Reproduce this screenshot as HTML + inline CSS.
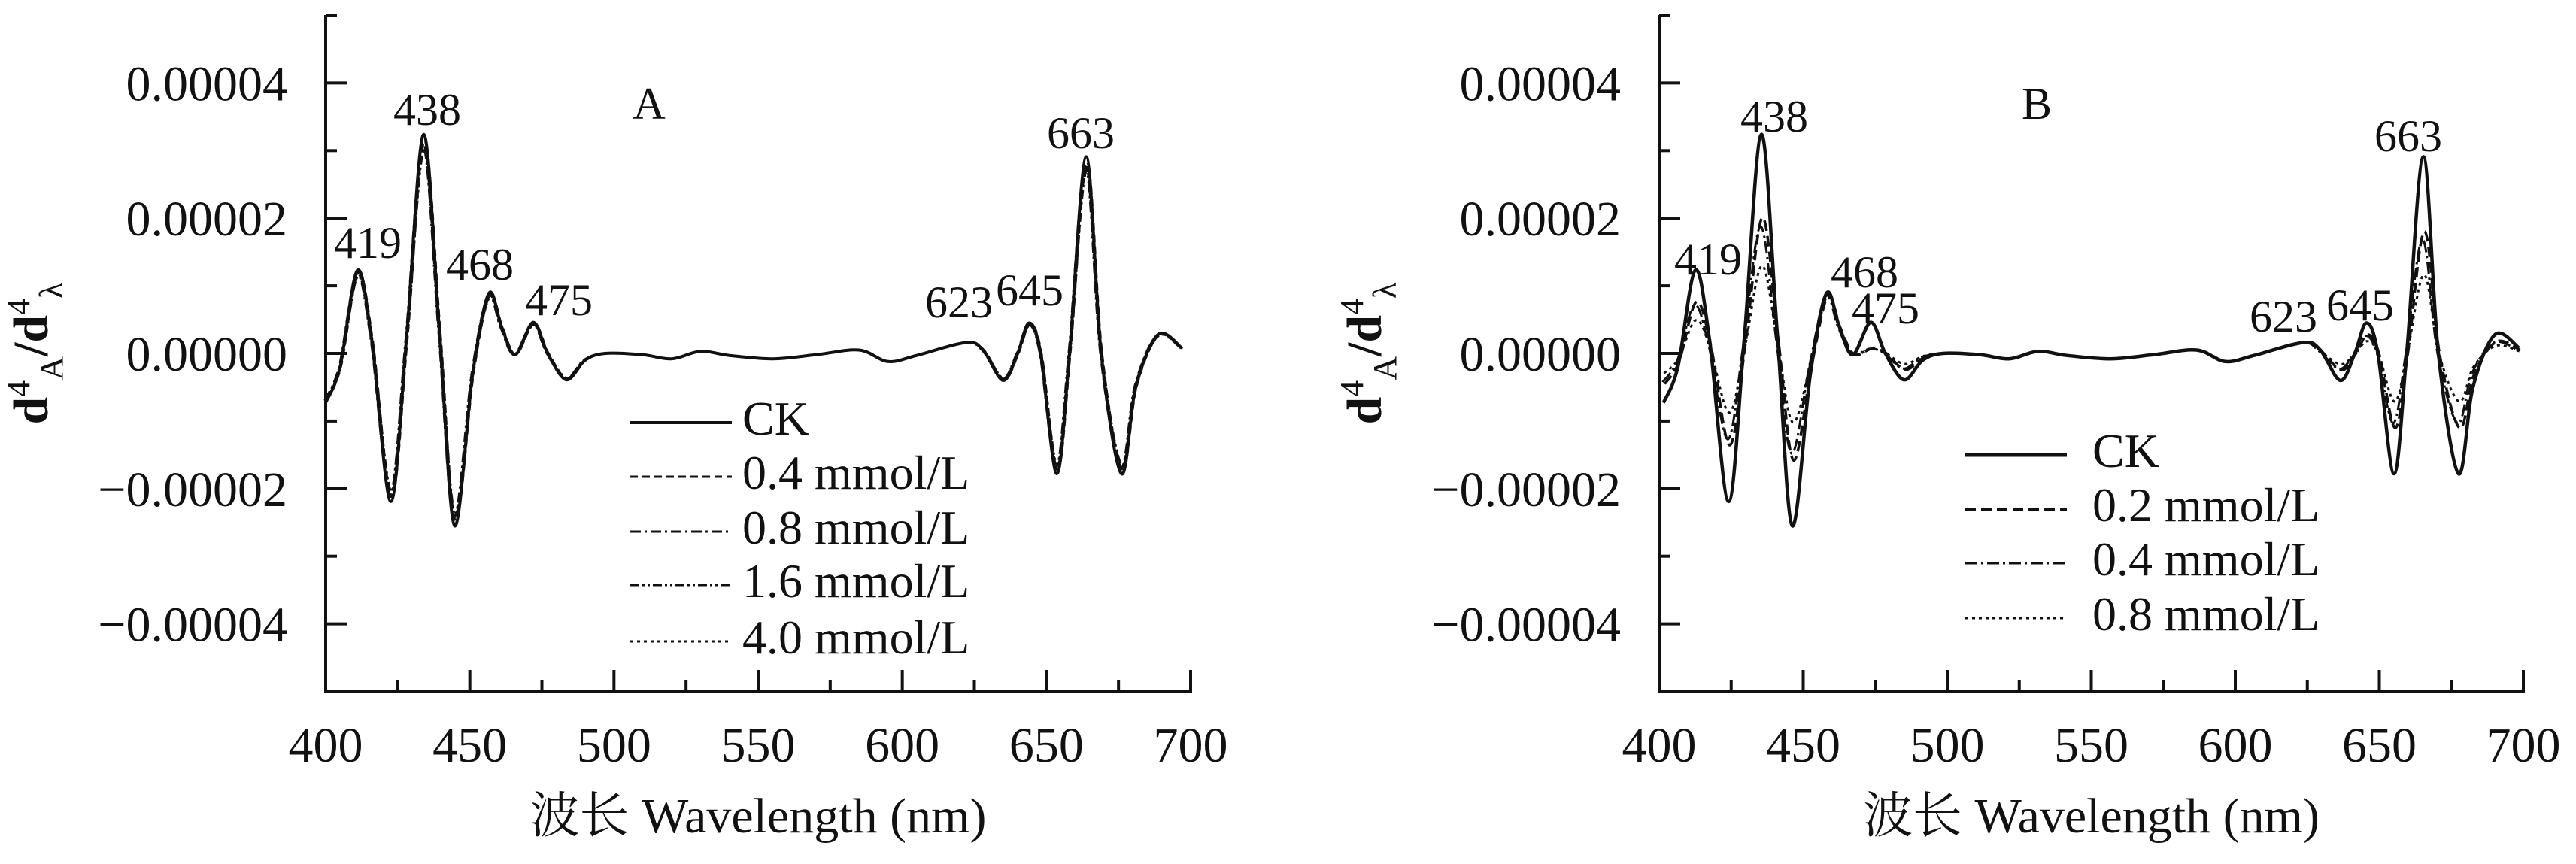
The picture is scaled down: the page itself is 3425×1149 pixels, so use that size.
<!DOCTYPE html>
<html><head><meta charset="utf-8">
<style>
html,body{margin:0;padding:0;background:#fff;}
svg text{font-family:"Liberation Serif","Noto Serif CJK SC",serif;fill:#111;}
</style></head>
<body>
<svg id="s" width="3425" height="1144" viewBox="0 0 3425 1144" xmlns="http://www.w3.org/2000/svg">
<rect width="3425" height="1144" fill="#fff"/>
<g id="g"></g>
</svg>
<script>
var NS="http://www.w3.org/2000/svg",G=document.getElementById('g');
function el(t,a,txt){var e=document.createElementNS(NS,t);for(var k in a)e.setAttribute(k,a[k]);if(txt!==undefined)e.textContent=txt;G.appendChild(e);return e;}
var base=[[400,-0.73],[405,-0.2],[411,1.23],[416,0.2],[422.6,-2.19],[428,0.2],[434,3.24],[439.5,0.3],[444.7,-2.55],[451,-0.3],[456.6,0.89],[461,0.4],[465.7,-0.02],[472,0.46],[477,0.0],[483.5,-0.39],[490,-0.1],[497,0],[510,-0.02],[520,-0.08],[530,0.03],[540,-0.03],[555,-0.08],[570,-0.02],[585,0.05],[595,-0.12],[605,-0.03],[622,0.16],[628,0.05],[635,-0.4],[640,0],[644,0.45],[648,0],[653.6,-1.78],[658,0],[663.8,2.91],[669,0],[676,-1.78],[681,-0.5],[688.7,0.28],[697,0.08]];
function pathFor(X0,X1,pts){
 var P=pts.map(function(p){return [X0+(p[0]-400)*(X1-X0)/300,470-p[1]*89.9];});
 var d="M"+P[0][0].toFixed(1)+","+P[0][1].toFixed(1);
 for(var i=0;i<P.length-1;i++){var p0=P[Math.max(0,i-1)],p1=P[i],p2=P[i+1],p3=P[Math.min(P.length-1,i+2)];
  var c1=[p1[0]+(p2[0]-p0[0])/6,p1[1]+(p2[1]-p0[1])/6],c2=[p2[0]-(p3[0]-p1[0])/6,p2[1]-(p3[1]-p1[1])/6];
  d+="C"+c1[0].toFixed(1)+","+c1[1].toFixed(1)+" "+c2[0].toFixed(1)+","+c2[1].toFixed(1)+" "+p2[0].toFixed(1)+","+p2[1].toFixed(1);}
 return d;}
function scaled(s,dx,opt){return base.map(function(p){var f=(p[0]<500||p[0]>625)?s:1;
  if(opt&&p[0]>=455&&p[0]<=462)f=0.95;
  if(opt&&p[0]>=470&&p[0]<=474)f=0.15;
  return [p[0]+(dx||0),p[1]*f];});}
function panel(X0,X1,letter,lx,labels,series,leg){
 var sw=4;
 el('line',{x1:X0,y1:20,x2:X0,y2:919,stroke:'#111','stroke-width':sw});
 el('line',{x1:X0-2,y1:919,x2:X1+2,y2:919,stroke:'#111','stroke-width':sw});
 for(var v=-5;v<=5;v++){var y=470-v*89.9,L=(v%2==0)?28:15;el('line',{x1:X0,y1:y,x2:X0+L,y2:y,stroke:'#111','stroke-width':sw});}
 var yl={4:'0.00004',2:'0.00002',0:'0.00000','-2':'\u22120.00002','-4':'\u22120.00004'};
 for(var k in yl){el('text',{x:X0-51,y:470-(+k)*89.9+23,'font-size':66,'text-anchor':'end'},yl[k]);}
 for(var n=0;n<=12;n++){var x=X0+n*(X1-X0)/12,L=(n%2==0)?28:15;el('line',{x1:x,y1:919,x2:x,y2:919-L,stroke:'#111','stroke-width':sw});
  if(n%2==0)el('text',{x:x,y:1013,'font-size':66,'text-anchor':'middle'},String(400+n*25));}
 var t=el('text',{x:0,y:0,'font-size':66,'text-anchor':'middle','font-weight':'bold',transform:'translate('+(X0-370)+',470) rotate(-90)'});
 t.innerHTML='d<tspan dy="-24" font-size="44" font-weight="normal">4</tspan><tspan dy="44" font-size="44" font-weight="normal">A</tspan><tspan dy="-20">/d</tspan><tspan dy="-24" font-size="44" font-weight="normal">4</tspan><tspan dy="44" font-size="44" font-weight="normal">\u03bb</tspan>';
 el('text',{x:(X0+X1)/2,y:1107,'font-size':66,'text-anchor':'middle'},'\u6ce2\u957f Wavelength (nm)');
 el('text',{x:lx,y:158,'font-size':60,'text-anchor':'middle'},letter);
 labels.forEach(function(l){el('text',{x:l[1],y:l[2]+22,'font-size':60,'text-anchor':'middle'},l[0]);});
 series.forEach(function(s){el('path',{d:pathFor(X0,X1,s.pts),fill:'none',stroke:'#111','stroke-width':s.w,'stroke-dasharray':s.da||'none','stroke-linejoin':'round'});});
 leg.rows.forEach(function(r,i){var y=leg.y[i];el('line',{x1:leg.x1,y1:y,x2:leg.x2,y2:y,stroke:'#111','stroke-width':r.w,'stroke-dasharray':r.da||'none'});
  el('text',{x:leg.tx,y:y+16,'font-size':64},r.t);});
}
var A=[{pts:scaled(1),w:4},{pts:scaled(0.97,0.3),w:3,da:'10,6'},{pts:scaled(0.95,-0.3),w:3,da:'14,5,3,5'},{pts:scaled(0.93,0.2),w:3,da:'12,4,3,4,3,4'},{pts:scaled(0.96,-0.2),w:3,da:'4,5'}];
panel(433,1583,'A',863,[['419',489,321],['438',568,144],['468',638,350],['475',743,397],['623',1275,400],['645',1369,384],['663',1437,175]],A,
 {x1:838,x2:973,tx:987,y:[562,634,707,778,853],rows:[{t:'CK',w:4},{t:'0.4 mmol/L',w:3,da:'10,6'},{t:'0.8 mmol/L',w:3,da:'14,5,3,5'},{t:'1.6 mmol/L',w:3,da:'12,4,3,4,3,4'},{t:'4.0 mmol/L',w:3,da:'4,5'}]});
var B=[{pts:scaled(1,1.5),w:4.5},{pts:scaled(0.62,1.9,1),w:3.5,da:'14,7'},{pts:scaled(0.58,1.2,1),w:3,da:'16,5,3,5'},{pts:scaled(0.4,1.7,1),w:3,da:'4,5'}];
panel(2206,3355,'B',2708,[['419',2271,343],['438',2359,153],['468',2479,360],['475',2507,408],['623',3036,419],['645',3138,404],['663',3202,179]],B,
 {x1:2613,x2:2748,tx:2782,y:[605,677,749,822],rows:[{t:'CK',w:5},{t:'0.2 mmol/L',w:4,da:'14,7'},{t:'0.4 mmol/L',w:3,da:'16,5,3,5'},{t:'0.8 mmol/L',w:3,da:'4,5'}]});
</script>
</body></html>
